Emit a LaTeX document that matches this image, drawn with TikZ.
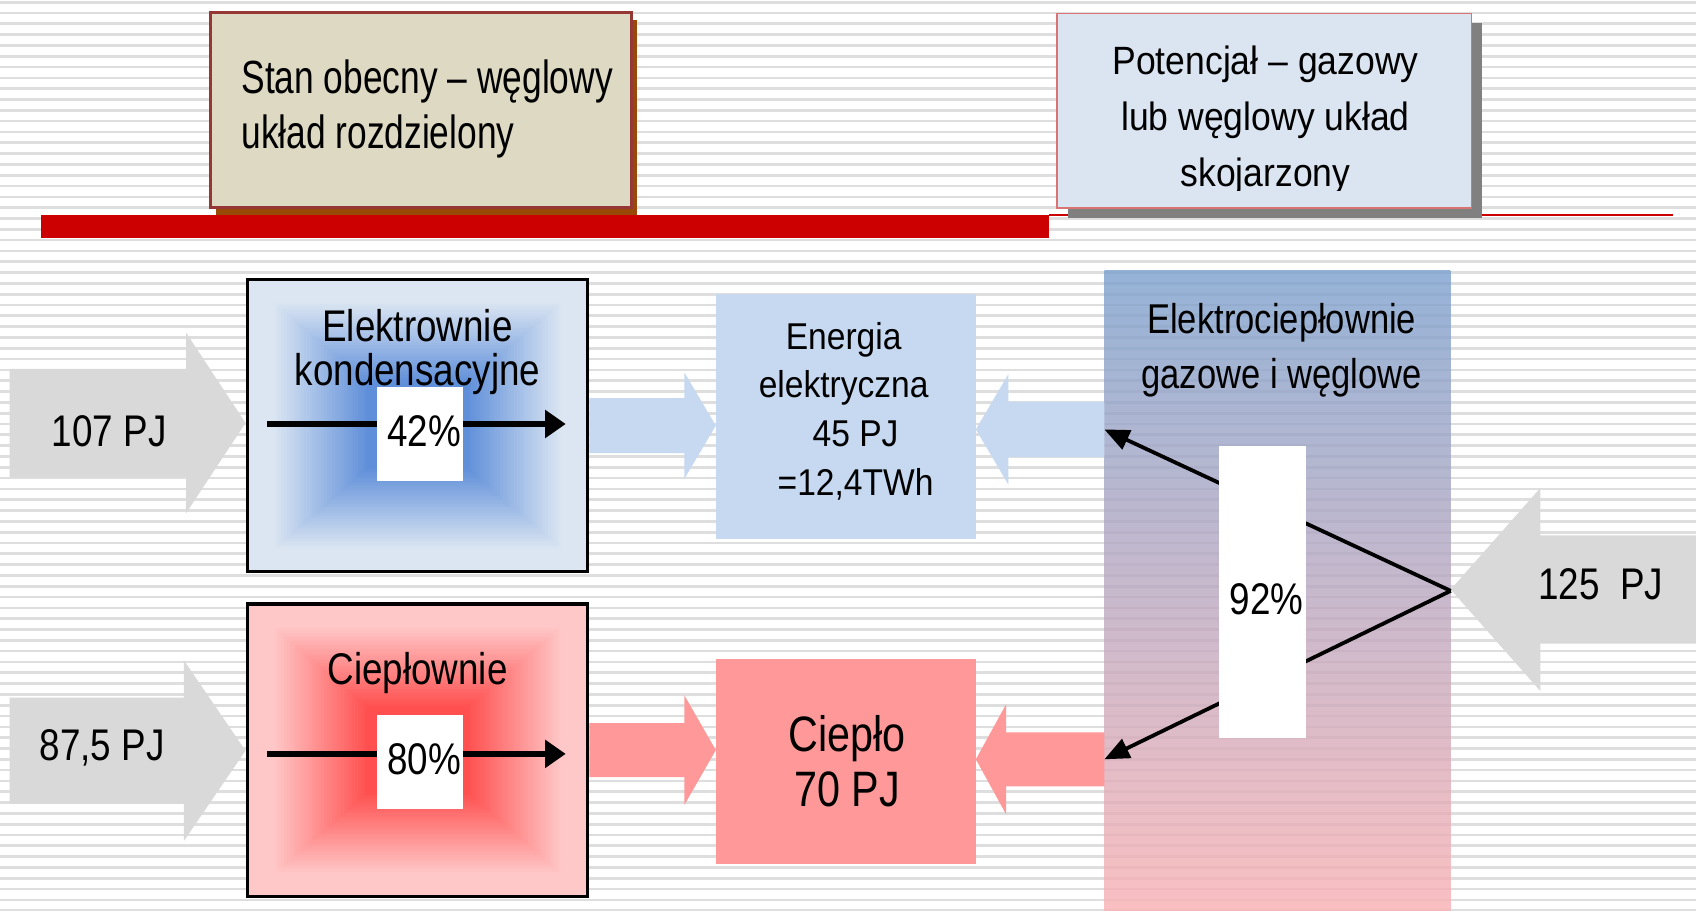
\documentclass[tikz,border=0pt]{standalone}
\usepackage{fontspec}
\setmainfont[FakeStretch=0.83]{Liberation Sans}
\newfontfamily\fa[FakeStretch=0.76]{Liberation Sans}
\newfontfamily\fb[FakeStretch=0.9]{Liberation Sans}
\usetikzlibrary{arrows.meta,calc,shadows}

\definecolor{stripe}{RGB}{222,222,222}
\definecolor{redbar}{RGB}{204,0,0}
\definecolor{beige}{RGB}{221,217,195}
\definecolor{dkred}{RGB}{149,55,53}
\definecolor{brownsh}{RGB}{152,72,7}
\definecolor{paleblue}{RGB}{219,229,241}
\definecolor{pinkline}{RGB}{218,115,115}
\definecolor{shgray}{RGB}{128,128,128}
\definecolor{arrgray}{RGB}{217,217,217}
\definecolor{ltblue}{RGB}{198,217,241}
\definecolor{pinkbox}{RGB}{255,153,153}
\definecolor{gblight}{RGB}{220,230,242}
\definecolor{gbdark}{RGB}{95,143,217}
\definecolor{grlight}{RGB}{255,200,200}
\definecolor{grdark}{RGB}{255,79,79}
\definecolor{coltop}{RGB}{123,160,205}
\definecolor{colbot}{RGB}{249,176,179}

% rectangular "from centre" gradient: cx cy halfwidth halfheight light dark
\newcommand\boxgrad[6]{%
  \foreach \gi in {0,...,60}{%
    \pgfmathsetmacro\gs{1-\gi/60}%
    \pgfmathtruncatemacro\gp{max(0,min(100,100*(0.86-\gs)/0.56))}%
    \fill[#6!\gp!#5] ({#1-\gs*#3},{#2-\gs*#4}) rectangle ({#1+\gs*#3},{#2+\gs*#4});
  }}

% horizontal block arrow: tail point, tip point (x only), shaft half, head half, head length, colour
\newcommand\blkarrow[6]{%
  \fill[#6] let \p1=(#1), \p2=(#2), \n1={ifthenelse(\x2>\x1,1,-1)*#5} in
    ({\x1},{\y1+#3pt}) -- ({\x2-(\n1)},{\y1+#3pt}) -- ({\x2-(\n1)},{\y1+#4pt}) -- ({\x2},{\y1})
    -- ({\x2-(\n1)},{\y1-#4pt}) -- ({\x2-(\n1)},{\y1-#3pt}) -- ({\x1},{\y1-#3pt}) -- cycle;
}

\tikzset{
  stripeline/.style={draw=stripe, line width=2.5pt},
  stanbox/.style={draw=dkred, line width=3pt, fill=beige, minimum width=389pt,
    minimum height=180pt, inner sep=0pt,
    drop shadow={shadow xshift=5pt, shadow yshift=-7pt, fill=brownsh, opacity=1}},
  potbox/.style={draw=pinkline, line width=1.5pt, fill=paleblue, minimum width=383pt,
    minimum height=180pt, inner sep=0pt,
    drop shadow={shadow xshift=10pt, shadow yshift=-9pt, fill=shgray, opacity=1}},
  procbox/.style={draw=black, line width=3pt, minimum width=315pt, minimum height=270pt, inner sep=0pt},
  outbox/.style={minimum width=240pt, inner sep=0pt},
  whitebox/.style={fill=white, minimum width=79pt, inner sep=0pt},
  big/.style={font=\fontsize{41pt}{40pt}\selectfont, inner sep=0pt},
  blk/.style={draw=black, line width=5pt, -{Triangle[length=19pt,width=25pt]}},
  diag/.style={draw=black, line width=3.5pt, -{Triangle[length=23pt,width=19pt]}},
}

\begin{document}
\begin{tikzpicture}[x=1pt,y=-1pt]
\useasboundingbox (0,0) rectangle (1568,842);
\fill[white] (0,0) rectangle (1568,842);
\foreach \yy in {2,12,...,842} \draw[stripeline] (0,\yy) -- (1568,\yy);

% header bars
\fill[redbar] (38,199) rectangle (970,220);
\draw[redbar, line width=2pt] (970,199) -- (1547,199);

% header boxes
\node[stanbox] (stan) at (389,101.5) {};
\node[anchor=base west, align=left, inner sep=0pt, font=\fa\fontsize{43pt}{51pt}\selectfont]
  (stant) at (223,137) {Stan obecny – węglowy\\układ rozdzielony};
\node[potbox] (pot) at (1169,102.5) {};
\begin{scope}
  \clip (977,12) rectangle (1361,176);
  \node[anchor=base, align=center, inner sep=0pt, font=\fb\fontsize{36.5pt}{52pt}\selectfont]
    (pott) at (1170,172.6) {Potencjał – gazowy\\lub węglowy układ\\skojarzony};
\end{scope}

% process boxes with gradients
\boxgrad{386}{393.5}{157.5}{135}{gblight}{gbdark}
\boxgrad{386}{693.5}{157.5}{135}{grlight}{grdark}
\node[procbox] (elek) at (386,393.5) {};
\node[procbox] (ciepl) at (386,693.5) {};

\coordinate (a1s) at (247,392);
\coordinate (a1e) at (523,392);
\coordinate (a2s) at (247,697);
\coordinate (a2e) at (523,697);
\draw[blk] (a1s) -- (a1e);
\draw[blk] (a2s) -- (a2e);
\node[whitebox, minimum height=87pt, big] (p42) at (388.5,401.5) {};
\node[big] (t42) at (392,399) {42\%};
\node[whitebox, minimum height=87pt, big] (p80) at (388.5,704.5) {};
\node[big] (t80) at (392,702) {80\%};
\node[anchor=base, align=center, big] (elekt) at (386,356) {Elektrownie\\kondensacyjne};
\node[anchor=base, align=center, big] (cieplt) at (386,633) {Ciepłownie};

% output boxes
\node[outbox, fill=ltblue, minimum height=227pt] (energia) at (782,385) {};
\node[anchor=base, align=center, inner sep=0pt, font=\fb\fontsize{34.5pt}{45pt}\selectfont]
  (energiat) at (780,457.7) {Energia\\elektryczna\\\hspace*{22pt}45 PJ\\\hspace*{22pt}=12,4TWh};
\node[outbox, fill=pinkbox, minimum height=190pt] (cieplo) at (782,704) {};
\node[anchor=base, align=center, inner sep=0pt, font=\fontsize{46pt}{51pt}\selectfont]
  (cieplot) at (783,746) {Ciepło\\70 PJ};

% CHP column
\node[top color=coltop, bottom color=colbot, fill opacity=0.8, minimum width=320pt,
  minimum height=591.5pt, inner sep=0pt] (ec) at (1181,546.25) {};
\node[anchor=base, align=center, inner sep=0pt, font=\fontsize{38.5pt}{51pt}\selectfont]
  (ect) at (1185,359) {Elektrociepłownie\\gazowe i węglowe};
\coordinate (eb) at (1021,397);
\coordinate (hb) at (1021,702);

% inputs
\coordinate (src1) at (9,391);
\coordinate (src2) at (9,694);
\coordinate (src3) at (1568,545);
\blkarrow{src1}{elek.west}{50}{83.5}{55}{arrgray}
\blkarrow{src2}{ciepl.west}{49}{83.5}{57}{arrgray}
\blkarrow{src3}{ec.east}{50}{94}{83}{arrgray}
\node[big] (in1) at (101,399) {107 PJ};
\node[big] (in2) at (94.5,691) {87,5 PJ};
\node[big] (in3) at (1480,540) {125\ \ PJ};

% flows to outputs
\blkarrow{elek.east}{energia.west}{25.5}{49}{29}{ltblue}
\blkarrow{ciepl.east}{cieplo.west}{25}{50.5}{29}{pinkbox}
\blkarrow{eb}{energia.east}{25.5}{51}{30}{ltblue}
\blkarrow{hb}{cieplo.east}{25}{51}{28}{pinkbox}

% split in CHP
\draw[diag] (ec.east) -- (eb);
\draw[diag] (ec.east) -- (hb);
\node[whitebox, minimum width=80pt, minimum height=270pt] (p92) at (1167.25,547) {};
\node[big] (t92) at (1171,554) {92\%};
\end{tikzpicture}
\end{document}
